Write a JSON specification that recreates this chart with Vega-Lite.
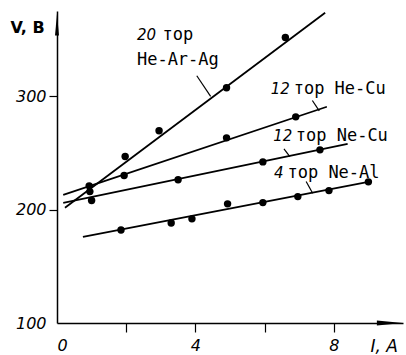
{
  "$schema": "https://vega.github.io/schema/vega-lite/v6.json",
  "autosize": "none",
  "width": 346,
  "height": 312,
  "padding": {"left": 57, "top": 11, "right": 3, "bottom": 32},
  "background": "white",
  "config": {
    "view": {"stroke": null},
    "axis": {"grid": false, "domainColor": "black", "domainWidth": 1.5, "tickColor": "black", "tickWidth": 1.2, "labelColor": "black", "titleColor": "black", "labelFont": "DejaVu Sans", "titleFont": "DejaVu Sans"}
  },
  "datasets": {
    "lines": [
      {"series": "He-Ar-Ag", "I": 0.23, "V": 201.5},
      {"series": "He-Ar-Ag", "I": 7.75, "V": 373.5},
      {"series": "He-Cu", "I": 0.18, "V": 213},
      {"series": "He-Cu", "I": 7.8, "V": 290.6},
      {"series": "Ne-Cu", "I": 0.18, "V": 205.9},
      {"series": "Ne-Cu", "I": 8.4, "V": 257.9},
      {"series": "Ne-Al", "I": 0.75, "V": 175.9},
      {"series": "Ne-Al", "I": 9.0, "V": 224.4}
    ],
    "points": [
      {"series": "He-Ar-Ag", "I": 0.93, "V": 220.9},
      {"series": "He-Ar-Ag", "I": 1.97, "V": 246.7},
      {"series": "He-Ar-Ag", "I": 2.95, "V": 269.4},
      {"series": "He-Ar-Ag", "I": 4.9, "V": 307.4},
      {"series": "He-Ar-Ag", "I": 6.6, "V": 351.7},
      {"series": "He-Cu", "I": 0.95, "V": 215.8},
      {"series": "He-Cu", "I": 1.94, "V": 230},
      {"series": "He-Cu", "I": 4.9, "V": 263.2},
      {"series": "He-Cu", "I": 6.9, "V": 281.7},
      {"series": "Ne-Cu", "I": 1.0, "V": 207.9},
      {"series": "Ne-Cu", "I": 3.5, "V": 226.2},
      {"series": "Ne-Cu", "I": 5.95, "V": 242},
      {"series": "Ne-Cu", "I": 7.6, "V": 252.6},
      {"series": "Ne-Al", "I": 1.85, "V": 182},
      {"series": "Ne-Al", "I": 3.3, "V": 188.2},
      {"series": "Ne-Al", "I": 3.9, "V": 191.8},
      {"series": "Ne-Al", "I": 4.93, "V": 205},
      {"series": "Ne-Al", "I": 5.95, "V": 206.1},
      {"series": "Ne-Al", "I": 6.96, "V": 211.4},
      {"series": "Ne-Al", "I": 7.86, "V": 216.7},
      {"series": "Ne-Al", "I": 9.0, "V": 224.4}
    ],
    "labels": [
      {"kind": "number", "text": "20", "I": 2.31, "V": 349.7},
      {"kind": "word", "text": "тор", "I": 3.05, "V": 349.7},
      {"kind": "word", "text": "He-Ar-Ag", "I": 2.31, "V": 327},
      {"kind": "number", "text": "12", "I": 6.18, "V": 302},
      {"kind": "word", "text": "тор He-Cu", "I": 6.84, "V": 302},
      {"kind": "number", "text": "12", "I": 6.25, "V": 260},
      {"kind": "word", "text": "тор Ne-Cu", "I": 6.9, "V": 260},
      {"kind": "number", "text": "4", "I": 6.27, "V": 227.7},
      {"kind": "word", "text": "тор Ne-Al", "I": 6.66, "V": 227.7}
    ],
    "leaders": [
      {"I": 4.04, "V": 317.9, "I2": 4.44, "V2": 299.7},
      {"I": 7.38, "V": 296.1, "I2": 7.58, "V2": 287},
      {"I": 6.56, "V": 253.5, "I2": 6.73, "V2": 246.7},
      {"I": 7.2, "V": 224.7, "I2": 7.39, "V2": 214.4}
    ],
    "arrows": [
      {"axis": "y", "I": 0, "V": 363},
      {"axis": "x", "I": 9.62, "V": 100}
    ]
  },
  "encoding": {
    "x": {"field": "I", "type": "quantitative", "scale": {"domain": [0, 10], "nice": false, "zero": false},
      "axis": {"values": [0, 2, 4, 6, 8], "tickSize": 9, "labelPadding": 13, "labelBaseline": "middle", "labelFontSize": 16, "labelFontStyle": "italic",
        "labelExpr": "datum.value == 0 || datum.value == 4 || datum.value == 8 ? datum.label : ''",
        "tickColor": {"condition": {"test": "datum.value == 0", "value": "transparent"}, "value": "black"},
        "title": "I, A", "titleFontSize": 17, "titleFontWeight": "normal", "titleFontStyle": "italic", "titleAlign": "left", "titleBaseline": "middle", "titleX": 313, "titleY": 23, "titleAngle": 0}},
    "y": {"field": "V", "type": "quantitative", "scale": {"domain": [100, 375], "nice": false, "zero": false},
      "axis": {"values": [100, 200, 300], "tickSize": 8, "labelPadding": 3, "labelFontSize": 16, "labelFontStyle": "italic", "labelBaseline": "middle",
        "tickColor": {"condition": {"test": "datum.value == 100", "value": "transparent"}, "value": "black"},
        "title": "V, B", "titleFontSize": 16, "titleFontWeight": "bold", "titleAngle": 0, "titleAlign": "left", "titleBaseline": "middle", "titleX": -47, "titleY": 16}}
  },
  "layer": [
    {"data": {"name": "lines"}, "mark": {"type": "line", "color": "black", "strokeWidth": 1.8}, "encoding": {"detail": {"field": "series"}}},
    {"data": {"name": "points"}, "mark": {"type": "point", "filled": true, "color": "black", "size": 55, "opacity": 1}},
    {"data": {"name": "leaders"}, "mark": {"type": "rule", "color": "black", "strokeWidth": 1.2},
      "encoding": {"x2": {"field": "I2"}, "y2": {"field": "V2"}}},
    {"data": {"name": "labels"}, "transform": [{"filter": "datum.kind == 'number'"}],
      "mark": {"type": "text", "align": "left", "baseline": "alphabetic", "font": "DejaVu Sans", "fontSize": 15, "fontStyle": "italic", "color": "black"},
      "encoding": {"text": {"field": "text"}}},
    {"data": {"name": "labels"}, "transform": [{"filter": "datum.kind == 'word'"}],
      "mark": {"type": "text", "align": "left", "baseline": "alphabetic", "font": "DejaVu Sans Mono", "fontSize": 17, "color": "black"},
      "encoding": {"text": {"field": "text"}}},
    {"data": {"name": "arrows"}, "transform": [{"filter": "datum.axis == 'y'"}],
      "mark": {"type": "point", "filled": true, "color": "black", "opacity": 1, "size": 484, "shape": "M0,-1L0.18,1L-0.18,1Z", "clip": false}},
    {"data": {"name": "arrows"}, "transform": [{"filter": "datum.axis == 'x'"}],
      "mark": {"type": "point", "filled": true, "color": "black", "opacity": 1, "size": 676, "shape": "M1,0L-1,0.2L-1,-0.2Z", "clip": false}}
  ]
}
